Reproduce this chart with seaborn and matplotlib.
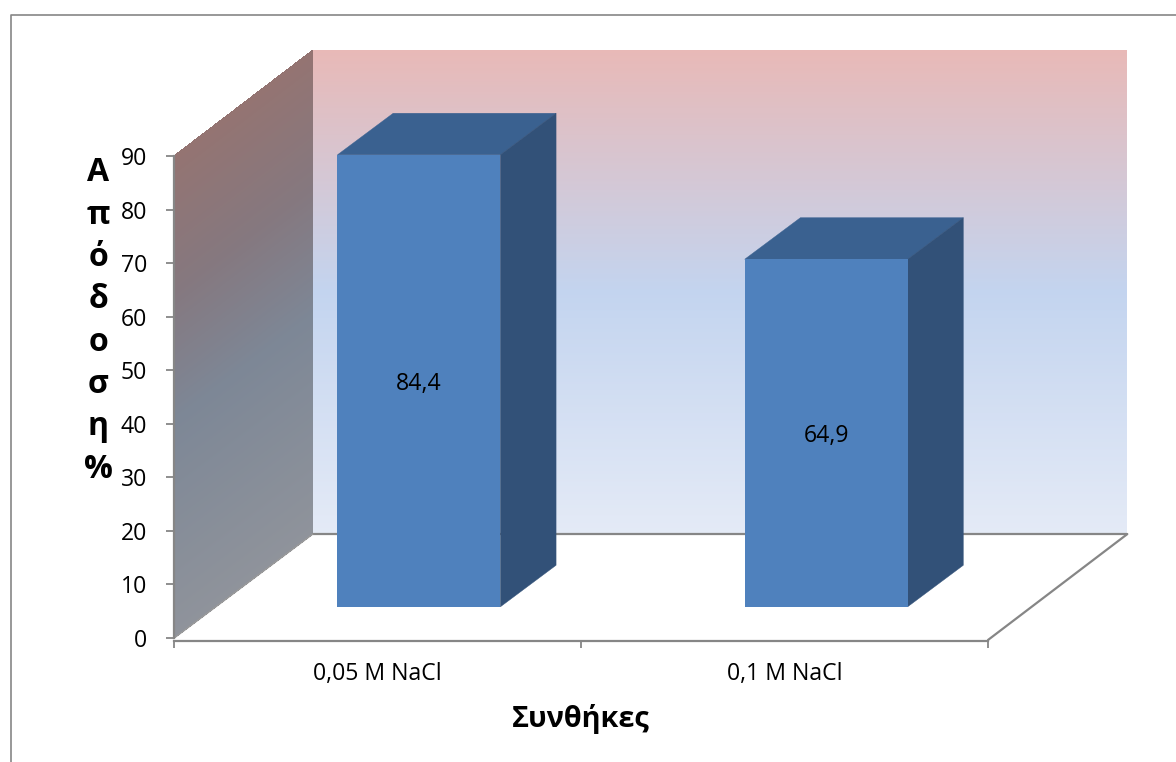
import numpy as np
import pandas as pd
import matplotlib
matplotlib.use("Agg")
import matplotlib.pyplot as plt
from matplotlib.colors import LinearSegmentedColormap
from matplotlib.lines import Line2D
from matplotlib.patches import Polygon
import seaborn as sns

# Data
conditions = ["0,05 M NaCl", "0,1 M NaCl"]
yields = [84.4, 64.9]
yield_ticks = list(range(0, 100, 10))
x_title = "Συνθήκες"
y_title = list("Απόδοση%")

# Styling
BAR_FRONT = "#4F81BD"
BAR_TOP = "#3A6190"
BAR_SIDE = "#325178"
AXIS_GREY = "#868686"
W, H = 1176, 762
LEFT, RIGHT, BOTTOM, TOP = 173.5, 988.0, 638.0, 156.0
LABEL_SIZE = 16.6

sns.set_theme(style="white")
plt.rcParams["font.family"] = ["Open Sans", "DejaVu Sans"]

fig = plt.figure(figsize=(W / 100, H / 100), dpi=100, facecolor="white")
ax = fig.add_axes([LEFT / W, 1 - BOTTOM / H, (RIGHT - LEFT) / W, (BOTTOM - TOP) / H])
ax.patch.set_alpha(0)

slots = np.arange(len(conditions))
frame = pd.DataFrame({"slot": slots, "yield": yields})
sns.barplot(data=frame, x="slot", y="yield", color=BAR_FRONT, saturation=1,
            width=0.4, native_scale=True, ax=ax, zorder=4, clip_on=False)
X_MIN, X_MAX = -0.5, 1.5
ax.set_xlim(X_MIN, X_MAX)
ax.set_ylim(0, 90)

# Depth of the 3-D box, expressed in data units
DEPTH_X, DEPTH_Y = 0.342, 19.4
WALL_HEIGHT = 90.4
BAR_NEAR, BAR_FAR = 0.30, 0.70

back_cmap = LinearSegmentedColormap.from_list(
    "back", [(0.0, "#E4EAF6"), (0.5, "#C3D4EF"), (1.0, "#E8B9B7")])
side_cmap = LinearSegmentedColormap.from_list(
    "side", [(0.0, "#8F939B"), (0.45, "#7D8796"), (0.72, "#85787F"), (1.0, "#947472")])

# Back wall and left side wall, both shaded along their height
v = np.linspace(0, 1, 301)
shade = (0.5 * (v[:-1] + v[1:])).reshape(-1, 1)
Xb, Yb = np.meshgrid([X_MIN + DEPTH_X, X_MAX + DEPTH_X], DEPTH_Y + WALL_HEIGHT * v)
ax.pcolormesh(Xb, Yb, shade, cmap=back_cmap, vmin=0, vmax=1, shading="flat",
              zorder=1, clip_on=False)
U, V = np.meshgrid([0.0, 1.0], v)
ax.pcolormesh(X_MIN + DEPTH_X * U, 90 * V + (DEPTH_Y + 0.4 * V) * U, shade, cmap=side_cmap,
              vmin=0, vmax=1, shading="flat", zorder=1, clip_on=False)

# Floor outline
floor_kw = dict(color=AXIS_GREY, lw=1.6, clip_on=False, zorder=2, solid_capstyle="round")
ax.plot([X_MIN + DEPTH_X, X_MAX + DEPTH_X], [DEPTH_Y, DEPTH_Y], **floor_kw)
ax.plot([X_MIN, X_MIN + DEPTH_X], [-0.1, DEPTH_Y], color="#9A9A9A", lw=1.0, clip_on=False, zorder=2)
ax.plot([X_MAX, X_MAX + DEPTH_X], [-0.37, DEPTH_Y], **floor_kw)

# Extrude each bar: front face shifted into the box, plus top and side faces
for patch, value in zip(ax.patches, yields):
    cx = patch.get_x() + patch.get_width() / 2
    x0 = cx - 0.2 + BAR_NEAR * DEPTH_X
    x1 = x0 + 0.4
    y0 = BAR_NEAR * DEPTH_Y
    y1 = y0 + value
    patch.set_x(x0)
    patch.set_width(0.4)
    patch.set_y(y0)
    patch.set_height(value)
    patch.set_edgecolor("none")
    dx = (BAR_FAR - BAR_NEAR) * DEPTH_X
    dy = (BAR_FAR - BAR_NEAR) * DEPTH_Y
    ax.add_patch(Polygon([(x0, y1), (x1, y1), (x1 + dx, y1 + dy), (x0 + dx, y1 + dy)],
                         closed=True, fc=BAR_TOP, ec=BAR_TOP, lw=0.3, zorder=3.9, clip_on=False))
    ax.add_patch(Polygon([(x1, y0), (x1 + dx, y0 + dy), (x1 + dx, y1 + dy), (x1, y1)],
                         closed=True, fc=BAR_SIDE, ec=BAR_SIDE, lw=0.3, zorder=3.9, clip_on=False))
    ax.text((x0 + x1) / 2, y0 + value / 2 - 0.5, f"{value}".replace(".", ","),
            ha="center", va="center", fontsize=LABEL_SIZE, color="black", zorder=5)

# Axes, ticks and labels
sns.despine(ax=ax, top=True, right=True)
for side in ("left", "bottom"):
    ax.spines[side].set_color(AXIS_GREY)
    ax.spines[side].set_linewidth(1.6)
ax.spines["bottom"].set_position(("outward", 2))
ax.set_yticks(yield_ticks)
ax.tick_params(axis="y", which="major", length=6, width=1.3, color=AXIS_GREY,
               labelsize=LABEL_SIZE, labelcolor="black", pad=13, left=True)
ax.set_xticks(slots, conditions)
ax.set_xticks([-0.5, 0.5, 1.5], minor=True)
ax.tick_params(axis="x", which="minor", length=5.2, width=1.3, color=AXIS_GREY, bottom=True)
ax.tick_params(axis="x", which="major", length=0, labelsize=LABEL_SIZE, labelcolor="black", pad=15.5)

ax.set_xlabel(x_title, fontsize=20.8, fontweight="bold", color="black")
ax.xaxis.set_label_coords((581 - LEFT) / (RIGHT - LEFT), -(719 - BOTTOM) / (BOTTOM - TOP))
ax.xaxis.label.set_verticalalignment("center")

ax.set_ylabel("\n".join(y_title), rotation=0, fontsize=23, fontweight="bold",
              color="black", linespacing=1.375, ha="center", va="center")
ax.yaxis.set_label_coords((98 - LEFT) / (RIGHT - LEFT), (BOTTOM - 321) / (BOTTOM - TOP))

# Outer chart border, running off the right and bottom of the canvas
fig.add_artist(Line2D([10.7 / W, 10.7 / W, 1], [0, 1 - 14.7 / H, 1 - 14.7 / H],
                      transform=fig.transFigure, color=AXIS_GREY, lw=1.2))

fig.savefig("out.png", dpi=100, facecolor="white")
